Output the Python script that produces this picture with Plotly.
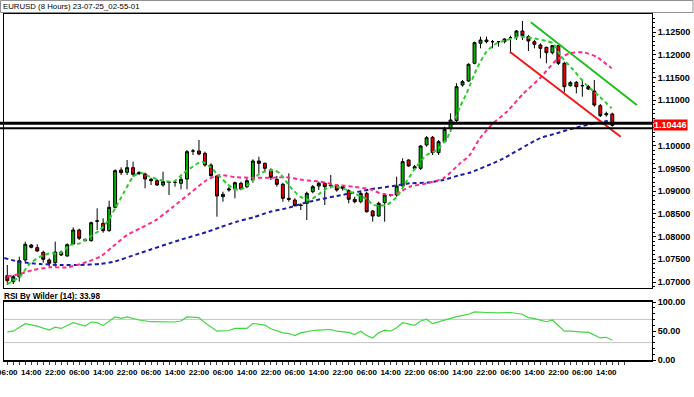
import plotly.graph_objects as go

# ---------------- data ----------------
title_text = "EURUSD (8 Hours) 23-07-25_02-55-01"
rsi_title = "RSI By Wilder (14): 33.98"
last_price = 1.10446

opens = [1.07139, 1.07007, 1.07117, 1.07484, 1.07814, 1.07755, 1.07653, 1.07484, 1.07425, 1.07660,
         1.07572, 1.07836, 1.08144, 1.07935, 1.07909, 1.08335, 1.08291, 1.08129, 1.08643, 1.09464,
         1.09413, 1.09515, 1.09413, 1.09376, 1.09259, 1.09229, 1.09134, 1.09193, 1.09193, 1.09171,
         1.09266, 1.09882, 1.09882, 1.09831, 1.09574, 1.09332, 1.08877, 1.09024, 1.09046, 1.09171,
         1.09097, 1.09244, 1.09662, 1.09611, 1.09464, 1.09259, 1.09149, 1.08841, 1.08804, 1.08694,
         1.08731, 1.08987, 1.09112, 1.09171, 1.09134, 1.09134, 1.09097, 1.09009, 1.08819, 1.08767,
         1.08951, 1.08562, 1.08452, 1.08745, 1.08907, 1.08914, 1.09112, 1.09684, 1.09537, 1.09501,
         1.10014, 1.10183, 1.09845, 1.10087, 1.10381, 1.10553, 1.11334, 1.11422, 1.11811, 1.12251,
         1.12324, 1.12287, 1.12287, 1.12287, 1.12375, 1.12397, 1.12522, 1.12397, 1.12287, 1.12214,
         1.12163, 1.12045, 1.12199, 1.11811, 1.11319, 1.11393, 1.11319, 1.11297, 1.11202, 1.10879,
         1.10680, 1.10696]
highs = [1.07374, 1.07154, 1.07557, 1.07887, 1.07836, 1.07829, 1.07689, 1.07521, 1.07887, 1.07689,
         1.07851, 1.08203, 1.08173, 1.07960, 1.08327, 1.08621, 1.08401, 1.08789, 1.09479, 1.09523,
         1.09684, 1.09647, 1.09430, 1.09405, 1.09295, 1.09259, 1.09427, 1.09222, 1.09222, 1.09317,
         1.09904, 1.09926, 1.10124, 1.09867, 1.09611, 1.09354, 1.08987, 1.09097, 1.09207, 1.09207,
         1.09281, 1.09699, 1.09757, 1.09625, 1.09501, 1.09332, 1.09185, 1.09391, 1.08841, 1.08731,
         1.08987, 1.09134, 1.09207, 1.09193, 1.09354, 1.09156, 1.09119, 1.09039, 1.08877, 1.08987,
         1.08987, 1.08584, 1.08767, 1.08951, 1.08935, 1.09317, 1.09721, 1.09699, 1.09574, 1.10014,
         1.10212, 1.10212, 1.10124, 1.10417, 1.10711, 1.11371, 1.11444, 1.11811, 1.12287, 1.12397,
         1.12397, 1.12324, 1.12302, 1.12361, 1.12419, 1.12544, 1.12742, 1.12434, 1.12324, 1.12251,
         1.12177, 1.12214, 1.12214, 1.11847, 1.11422, 1.11422, 1.11444, 1.11334, 1.11444, 1.10916,
         1.10747, 1.10725]
lows = [1.06934, 1.06956, 1.07007, 1.07440, 1.07741, 1.07667, 1.07425, 1.07337, 1.07337, 1.07572,
        1.07557, 1.07814, 1.07924, 1.07890, 1.07887, 1.08144, 1.08085, 1.08107, 1.08621, 1.09354,
        1.09354, 1.09317, 1.09354, 1.09061, 1.09134, 1.09112, 1.09097, 1.08914, 1.09097, 1.09039,
        1.09039, 1.09794, 1.09787, 1.09537, 1.09317, 1.08437, 1.08767, 1.08987, 1.08841, 1.09024,
        1.09061, 1.09185, 1.09391, 1.09430, 1.09244, 1.09097, 1.08767, 1.08767, 1.08657, 1.08584,
        1.08364, 1.08951, 1.09024, 1.08694, 1.09061, 1.08987, 1.09009, 1.08731, 1.08731, 1.08731,
        1.08525, 1.08327, 1.08437, 1.08327, 1.08877, 1.08877, 1.09097, 1.09537, 1.09464, 1.09464,
        1.09977, 1.09794, 1.09794, 1.10065, 1.10307, 1.10509, 1.11297, 1.11407, 1.11789, 1.12141,
        1.12251, 1.12141, 1.12177, 1.12251, 1.12031, 1.12324, 1.12324, 1.12082, 1.12141, 1.11921,
        1.11811, 1.12009, 1.11774, 1.11173, 1.11297, 1.11151, 1.11077, 1.11224, 1.10857, 1.10630,
        1.10637, 1.10417]
closes = [1.07029, 1.07117, 1.07469, 1.07829, 1.07763, 1.07682, 1.07499, 1.07411, 1.07660, 1.07594,
          1.07821, 1.08144, 1.07961, 1.07915, 1.08305, 1.08345, 1.08129, 1.08643, 1.09449, 1.09405,
          1.09515, 1.09369, 1.09383, 1.09266, 1.09229, 1.09134, 1.09207, 1.09193, 1.09193, 1.09259,
          1.09867, 1.09882, 1.09816, 1.09574, 1.09339, 1.08892, 1.08929, 1.09046, 1.09185, 1.09046,
          1.09229, 1.09662, 1.09611, 1.09501, 1.09303, 1.09149, 1.08841, 1.08819, 1.08679, 1.08683,
          1.08951, 1.09097, 1.09171, 1.09097, 1.09119, 1.09024, 1.09061, 1.08819, 1.08767, 1.08951,
          1.08547, 1.08452, 1.08731, 1.08914, 1.08920, 1.09112, 1.09647, 1.09552, 1.09501, 1.09992,
          1.10175, 1.09845, 1.10087, 1.10359, 1.10564, 1.11297, 1.11407, 1.11789, 1.12265, 1.12324,
          1.12287, 1.12287, 1.12287, 1.12346, 1.12375, 1.12522, 1.12419, 1.12302, 1.12229, 1.12141,
          1.12045, 1.12199, 1.11811, 1.11297, 1.11385, 1.11297, 1.11319, 1.11246, 1.10894, 1.10659,
          1.10700, 1.10446]
candle_idx = list(range(len(closes)))

# moving averages (x = candle position)
ma_fast_x = [0, 2.1, 3.8, 5.5, 7.1, 8.8, 10.5, 12.1, 13.8, 15.5, 17.1, 18, 19.4, 21, 22.2, 23.8, 25.5,
             27.7, 29.4, 31.1, 32.5, 33.8, 35.5, 36.6, 37.7, 38.8, 40.5, 42.2, 44.4, 45.5, 47.2, 48.9,
             50.5, 52.2, 53.9, 56.1, 57.8, 60, 61.1, 63.3, 65, 66.7, 68.3, 70, 71.7, 73.4, 74.5, 75.6,
             76.7, 78.4, 80, 81.7, 83.4, 85.6, 87.8, 90, 91.1, 92.5, 94.5, 96.7, 98.9, 100.9]
ma_fast_y = [1.06956, 1.07117, 1.07411, 1.07557, 1.07631, 1.07631, 1.07814, 1.07851, 1.07997, 1.08144,
             1.08401, 1.08621, 1.08951, 1.09317, 1.09405, 1.09317, 1.09244, 1.09207, 1.09391, 1.09552,
             1.09647, 1.09537, 1.09317, 1.09171, 1.09061, 1.09024, 1.09171, 1.09391, 1.09464, 1.09391,
             1.09097, 1.08877, 1.08804, 1.08951, 1.09097, 1.09061, 1.08951, 1.08826, 1.08694, 1.08694,
             1.08870, 1.09222, 1.09537, 1.09794, 1.09904, 1.10161, 1.10491, 1.10857, 1.11158, 1.11701,
             1.12067, 1.12251, 1.12324, 1.12397, 1.12361, 1.12302, 1.12251, 1.11957, 1.11664, 1.11334,
             1.11077, 1.10821]
ma_mid_x = [0, 2.1, 4.3, 7.1, 10, 12.6, 15.5, 17.6, 20, 22.2, 25, 27.7, 30.5, 33.3, 35.5, 38.3, 41.1,
            43.9, 46.6, 49.4, 52.2, 55, 57.8, 60.6, 62.2, 64.4, 67.2, 70, 72.8, 75.6, 77.2, 78.9, 81.1,
            83.4, 86.2, 88.9, 91.7, 93.9, 96.2, 98.4, 100.9]
ma_mid_y = [1.07121, 1.07176, 1.07264, 1.07323, 1.07323, 1.07411, 1.07557, 1.07777, 1.08034, 1.08181,
            1.08379, 1.08657, 1.08951, 1.09244, 1.09354, 1.09303, 1.09295, 1.09295, 1.09303, 1.09244,
            1.09207, 1.09134, 1.09097, 1.09039, 1.08958, 1.08914, 1.09097, 1.09171, 1.09281, 1.09611,
            1.09794, 1.10161, 1.10491, 1.10747, 1.11151, 1.11481, 1.11884, 1.12031, 1.12053, 1.11950,
            1.11701]
ma_slow_x = [-0.5, 2.1, 5.5, 8.8, 12.1, 15.5, 17.6, 22.2, 28.8, 33.3, 35.5, 38.3, 41.1, 43.9, 46.6,
             49.4, 52.2, 55, 57.8, 60.6, 64.4, 67.2, 70, 72.8, 75.6, 77.2, 82.3, 88.9, 91.7, 94.5,
             97.3, 100.1, 100.9]
ma_slow_y = [1.07528, 1.07440, 1.07396, 1.07374, 1.07374, 1.07396, 1.07440, 1.07638, 1.07924, 1.08100,
             1.08203, 1.08327, 1.08423, 1.08547, 1.08621, 1.08731, 1.08819, 1.08892, 1.08965, 1.09039,
             1.09112, 1.09171, 1.09185, 1.09244, 1.09354, 1.09405, 1.09684, 1.10161, 1.10271, 1.10381,
             1.10469, 1.10542, 1.10586]

# trend channel lines
trend_green_x = [87.4, 105.1]
trend_green_y = [1.12713, 1.10894]
trend_red_x = [83.9, 102.4]
trend_red_y = [1.12067, 1.10197]

# horizontal support lines
support_levels = [1.10491, 1.10381]
support_widths = [3, 2]

# RSI
rsi_x = [0, 1, 3, 5, 7, 8, 9, 11, 13, 14, 15, 16, 18, 19, 20, 22, 24, 26, 28, 29, 30, 32, 33, 35, 37,
         38, 40, 41, 43, 44, 46, 47, 48, 49, 51, 52, 54, 55, 57, 58, 59, 60, 61, 62, 63, 64, 65, 66,
         68, 69, 70, 71, 72, 73, 75, 77, 78, 80, 82, 84, 86, 87, 88, 90, 91, 93, 94, 96, 97, 99, 100,
         101]
rsi_y = [48.5, 49.7, 62.6, 58.5, 51.5, 56.7, 54.4, 64.3, 58.5, 65.5, 64.3, 59.6, 74.3, 71.9, 74.3, 69,
         66, 66, 65.5, 67.3, 74.3, 73.1, 64.3, 49.7, 50.9, 54.4, 54.4, 63.2, 60.2, 53.8, 46.8, 45.6,
         42.1, 46.8, 50.9, 51.5, 52.6, 49.7, 47.5, 43.9, 49.7, 42.1, 38, 46.8, 51.5, 49.7, 55.6, 64.3,
         59.6, 67.3, 70.2, 62.6, 65.5, 68.4, 74.9, 78.9, 83, 81.9, 81.2, 81.9, 78.9, 73.1, 71.3, 66,
         69, 49.7, 49.7, 47.9, 47.9, 38, 39.2, 33.98]
rsi_levels = [30, 70]

# time labels (2-hour candles, a label every 4 candles)
time_cycle = ["06:00", "14:00", "22:00"]
price_ticks = [1.070, 1.075, 1.080, 1.085, 1.090, 1.095, 1.100, 1.110, 1.115, 1.120, 1.125]
rsi_ticks = [0, 50, 100]

# ---------------- layout geometry (pixels) ----------------
W, H = 694, 397
PL, PR, PT, PB = 4, 652, 14, 360       # plot area
MAIN_BOTTOM = 288
RSI_TOP = 302

def fx(px):
    return (px - PL) / (PR - PL)

def fy(py):
    return (PB - py) / (PB - PT)

x0_px, dx_px = 7.3, 5.99
x_range = [(PL - x0_px) / dx_px, (PR - x0_px) / dx_px]
price_top = 1.125 + (32 - PT) * 0.00022
price_bottom = 1.125 - (MAIN_BOTTOM - 32) * 0.00022

FONT = "Liberation Sans, Arial, sans-serif"
ytick_font = dict(family=FONT, size=9, color="#000000", weight="bold")
xtick_font = dict(family=FONT, size=8, color="#000000", weight="bold")

fig = go.Figure()

fig.add_trace(go.Candlestick(
    x=candle_idx, open=opens, high=highs, low=lows, close=closes,
    increasing=dict(fillcolor="#00b400", line=dict(color="#000000", width=1)),
    decreasing=dict(fillcolor="#e60000", line=dict(color="#000000", width=1)),
    whiskerwidth=0, xaxis="x", yaxis="y", hoverinfo="skip", showlegend=False))

for xs, ys, col in [(ma_slow_x, ma_slow_y, "#1c1ca8"),
                    (ma_mid_x, ma_mid_y, "#ff2a8a"),
                    (ma_fast_x, ma_fast_y, "#2ecc2e")]:
    fig.add_trace(go.Scatter(x=xs, y=ys, mode="lines",
                             line=dict(color=col, width=2, dash="4px,3px", shape="spline", smoothing=0.6),
                             xaxis="x", yaxis="y", hoverinfo="skip", showlegend=False))

fig.add_trace(go.Scatter(x=trend_green_x, y=trend_green_y, mode="lines",
                         line=dict(color="#1fbf1f", width=2), xaxis="x", yaxis="y",
                         hoverinfo="skip", showlegend=False))
fig.add_trace(go.Scatter(x=trend_red_x, y=trend_red_y, mode="lines",
                         line=dict(color="#f01818", width=2), xaxis="x", yaxis="y",
                         hoverinfo="skip", showlegend=False))

fig.add_trace(go.Scatter(x=rsi_x, y=rsi_y, mode="lines",
                         line=dict(color="#3fd83f", width=1.2),
                         xaxis="x2", yaxis="y2", hoverinfo="skip", showlegend=False))

shapes = []
for lvl, w in zip(support_levels, support_widths):
    shapes.append(dict(type="line", xref="paper", yref="y", x0=fx(0), x1=1, y0=lvl, y1=lvl,
                       line=dict(color="#000000", width=w), layer="above"))
for lvl in rsi_levels:
    shapes.append(dict(type="line", xref="paper", yref="y2", x0=0, x1=1, y0=lvl, y1=lvl,
                       line=dict(color="#c4c4c4", width=1), layer="below"))
# title bar frame
shapes.append(dict(type="rect", xref="paper", yref="paper", x0=fx(0.5), x1=fx(693), y0=fy(12.5), y1=fy(0.5),
                   line=dict(color="#909090", width=1), fillcolor="rgba(0,0,0,0)"))

annotations = [
    dict(text=title_text, xref="paper", yref="paper", x=fx(1), y=fy(6.5), xanchor="left", yanchor="middle",
         showarrow=False, font=dict(family=FONT, size=7.8, color="#000000")),
    dict(text=rsi_title, xref="paper", yref="paper", x=fx(2), y=fy(296), xanchor="left", yanchor="middle",
         showarrow=False, font=dict(family=FONT, size=8.2, color="#000000", weight="bold")),
    dict(text="%.5f" % last_price, xref="paper", yref="y", x=1, y=last_price, xanchor="left", yanchor="middle",
         xshift=1, showarrow=False, bgcolor="#ff0000", borderpad=0,
         font=dict(family=FONT, size=9, color="#ffffff", weight="bold")),
]

x_tickvals = list(range(0, 104))
x_ticktext = [time_cycle[(i // 4) % 3] if (i % 4 == 0 and i <= 100) else "" for i in x_tickvals]

fig.update_layout(
    width=W, height=H,
    margin=dict(l=PL, r=W - PR, t=PT, b=H - PB, autoexpand=False),
    paper_bgcolor="#ffffff", plot_bgcolor="#ffffff",
    showlegend=False,
    xaxis=dict(domain=[0, 1], range=x_range, anchor="y", showgrid=False, zeroline=False,
               showline=True, mirror=True, linecolor="#000000", linewidth=1,
               showticklabels=False, ticks="", rangeslider=dict(visible=False), fixedrange=True),
    yaxis=dict(domain=[fy(MAIN_BOTTOM), 1], range=[price_bottom, price_top], side="right",
               anchor="x", showgrid=False, zeroline=False, showline=True, mirror=True,
               linecolor="#000000", linewidth=1, ticks="outside", ticklen=3, tickcolor="#000000",
               tickvals=price_ticks, tickformat=".5f", tickfont=ytick_font,
               minor=dict(ticks="outside", dtick=0.001, ticklen=2, tickcolor="#000000", showgrid=False)),
    xaxis2=dict(domain=[0, 1], range=x_range, anchor="y2", matches="x", showgrid=False, zeroline=False,
                showline=True, mirror=True, linecolor="#000000", linewidth=2,
                ticks="outside", ticklen=3, tickcolor="#404040", tickvals=x_tickvals, ticktext=x_ticktext,
                tickfont=xtick_font, tickangle=0, ticklabeloverflow="allow"),
    yaxis2=dict(domain=[0, fy(RSI_TOP)], range=[0, 100], side="right", anchor="x2",
                showgrid=False, zeroline=False, showline=True, mirror=True, linecolor="#000000",
                linewidth=1, ticks="outside", ticklen=3, tickcolor="#000000",
                tickvals=rsi_ticks, tickformat=".2f", tickfont=ytick_font,
                minor=dict(ticks="outside", dtick=10, ticklen=2, tickcolor="#000000", showgrid=False)),
    shapes=shapes,
    annotations=annotations,
)

fig.write_html("out.html", config={"displayModeBar": False, "staticPlot": True},
               post_script="document.body.style.margin='0px';document.body.style.padding='0px';"
                           "document.body.style.overflow='hidden';")
